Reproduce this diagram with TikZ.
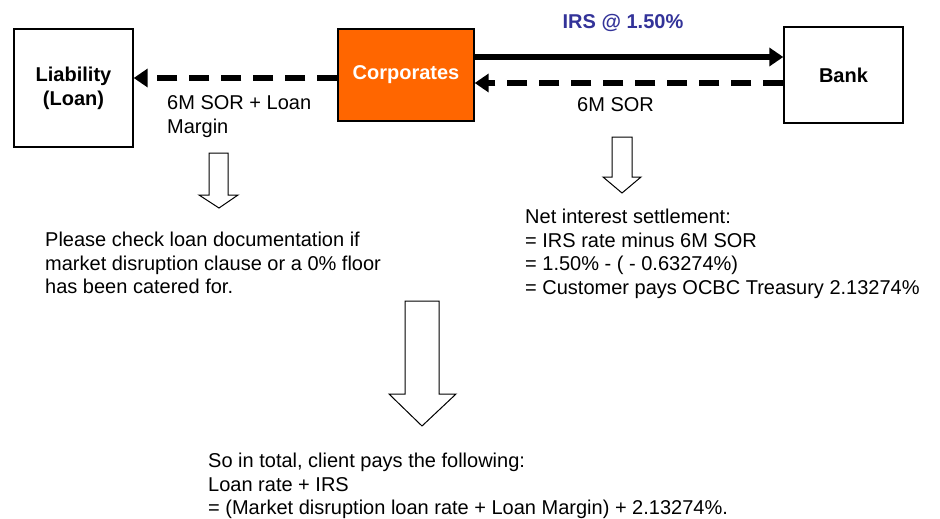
\documentclass[tikz,border=0pt]{standalone}
\usepackage{fontspec}
\setmainfont{Liberation Sans}
\usetikzlibrary{arrows.meta}
\definecolor{corporange}{HTML}{FF6600}
\definecolor{irsblue}{HTML}{333399}
\tikzset{
  boxnode/.style={draw=black, line width=1.4pt, inner sep=0pt, font=\fontsize{20}{24}\selectfont\bfseries, align=center},
  flow/.style={line width=6pt, -{Triangle[length=14pt,width=18pt]}},
  dflow/.style={flow, dash pattern=on 20pt off 12pt},
  plain/.style={inner sep=0pt, align=left, font=\fontsize{20}{23.5}\selectfont},
  hollow/.style={draw=black, line width=1pt, fill=white, line join=miter}
}
\begin{document}
\begin{tikzpicture}[x=1pt,y=-1pt]
\useasboundingbox (0,0) rectangle (940,519);
% boxes
\node[boxnode, minimum width=119pt, minimum height=118pt] (liab) at (73.5,88) {Liability\\(Loan)};
\node[boxnode, fill=corporange, text=white, minimum width=136pt, minimum height=92pt] (corp) at (406,75) {Corporates};
\node[boxnode, minimum width=119pt, minimum height=96pt] (bank) at (843.5,75) {Bank};
% connectors
\draw[flow] ([yshift=18pt]corp.east) -- ([yshift=18pt]corp.east -| bank.west);
\draw[dflow] ([yshift=-8pt]bank.west) -- ([yshift=-8pt]bank.west -| corp.east);
\draw[dflow] ([yshift=-3pt]corp.west) -- ([yshift=-3pt]corp.west -| liab.east);
% labels
\node[font=\fontsize{20}{24}\selectfont\bfseries, text=irsblue] (irs) at (623,23) {IRS @ 1.50\%};
\node[plain, anchor=west] (sor) at (577,105) {6M SOR};
\node[plain, anchor=west] (sorloan) at (167,116.5) {6M SOR + Loan\\Margin};
% hollow arrows
\draw[hollow] (209,153) -- (228,153) -- (228,195) -- (238,195) -- (219,208) -- (199,195) -- (209,195) -- cycle;
\draw[hollow] (612,137) -- (632,137) -- (632,177) -- (641,177) -- (622,193) -- (603,177) -- (612,177) -- cycle;
\draw[hollow] (405,301) -- (439,301) -- (439,394) -- (456,394) -- (422,426) -- (389,394) -- (405,394) -- cycle;
% texts
\node[plain, anchor=west] (check) at (45,263) {Please check loan documentation if\\market disruption clause or a 0\% floor\\has been catered for.};
\node[plain, anchor=west] (net) at (525,254) {Net interest settlement:\\= IRS rate minus 6M SOR\\= 1.50\% - ( - 0.63274\%)\\= Customer pays OCBC Treasury 2.13274\%};
\node[plain, anchor=west] (total) at (208,486) {So in total, client pays the following:\\Loan rate + IRS\\= (Market disruption loan rate + Loan Margin) + 2.13274\%.};
\end{tikzpicture}
\end{document}
